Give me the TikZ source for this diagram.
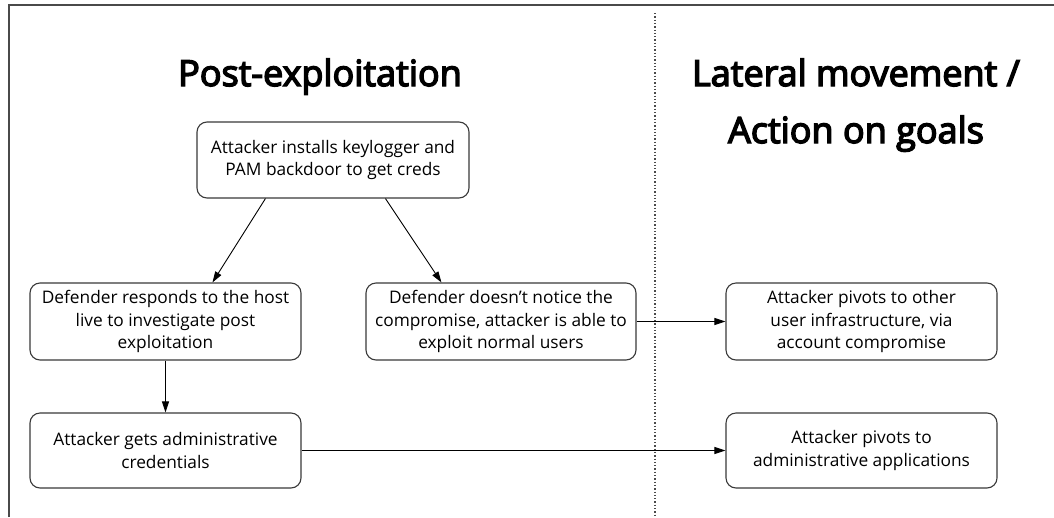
\documentclass[tikz,border=0pt]{standalone}
\usepackage{fontspec}
\setmainfont{Open Sans}
\newfontfamily\headfont[FakeBold=4]{Open Sans}
\usetikzlibrary{arrows.meta,calc}
\definecolor{framegray}{HTML}{4A4A4A}
\definecolor{boxline}{HTML}{3A3A3A}
\begin{document}
\begin{tikzpicture}[x=1pt,y=-1pt,
  stagebox/.style={draw=boxline,line width=1.1pt,rounded corners=10pt,
    align=center,inner sep=1pt,font=\fontsize{17.3}{22.5}\selectfont},
  flow/.style={draw=black,line width=0.9pt,-{Triangle[length=11pt,width=7pt]}},
  heading/.style={anchor=base,font=\headfont\fontsize{36}{58}\selectfont,align=center}]
\useasboundingbox (0,0) rectangle (1054,517);
\fill[white] (0,0) rectangle (1054,517);
% outer frame (top and left edges)
\draw[framegray,line width=2pt] (9,517) -- (9,5) -- (1054,5);
% phase separator
\draw[framegray,line width=1.3pt,dotted] (655,13) -- (655,517);
% phase headings
\node[heading] (hpost) at (320,86) {Post-exploitation};
\node[heading] (hlat) at (856,86) {Lateral movement /};
\node[heading] (hact) at (856,143) {Action on goals};
% steps
\node[stagebox,minimum width=272pt,minimum height=76pt] (top) at (333,160)
  {Attacker installs keylogger and\\PAM backdoor to get creds};
\node[stagebox,minimum width=271pt,minimum height=77pt] (def) at (165.5,321.5)
  {Defender responds to the host\\live to investigate post\\exploitation};
\node[stagebox,minimum width=270pt,minimum height=77pt] (nonot) at (501,321.5)
  {Defender doesn’t notice the\\compromise, attacker is able to\\exploit normal users};
\node[stagebox,minimum width=271pt,minimum height=77pt] (piv1) at (861.5,321.5)
  {Attacker pivots to other\\user infrastructure, via\\account compromise};
\node[stagebox,minimum width=271pt,minimum height=75pt] (adm) at (165.5,450.5)
  {Attacker gets administrative\\credentials};
\node[stagebox,minimum width=271pt,minimum height=75pt] (piv2) at (861.5,450.5)
  {Attacker pivots to\\administrative applications};
% connectors
\draw[flow] ($(top.south west)+(69,0)$) -- ($(def.north west)+(183,0)$);
\draw[flow] ($(top.south west)+(189,0)$) -- ($(nonot.north west)+(76,0)$);
\draw[flow] (def.south) -- (adm.north);
\draw[flow] (nonot.east) -- (piv1.west);
\draw[flow] (adm.east) -- (piv2.west);
\end{tikzpicture}
\end{document}
